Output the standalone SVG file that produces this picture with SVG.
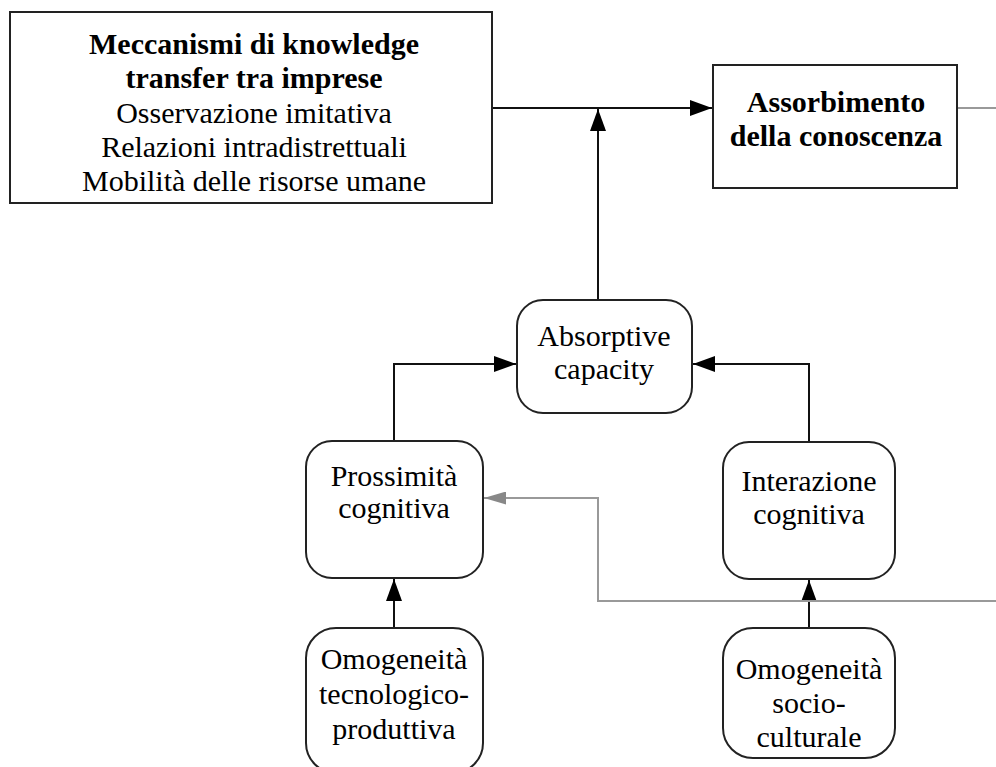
<svg xmlns="http://www.w3.org/2000/svg" width="996" height="767" viewBox="0 0 996 767">
<style>
.box{fill:#fff;stroke:#222;stroke-width:2}
.t{font-family:"Liberation Serif","Times New Roman",serif;font-size:30px;fill:#000;text-anchor:middle}
.b{font-weight:bold}
.c{fill:none;stroke:#111;stroke-width:2}
.g{fill:none;stroke:#999;stroke-width:2}
</style>
<defs>
<marker id="ahb" viewBox="0 0 10 10" refX="10" refY="5" markerWidth="22" markerHeight="16" preserveAspectRatio="none" markerUnits="userSpaceOnUse" orient="auto"><path d="M0,0L10,5L0,10z" fill="#000"/></marker>
<marker id="ahg" viewBox="0 0 10 10" refX="10" refY="5" markerWidth="22" markerHeight="13" preserveAspectRatio="none" markerUnits="userSpaceOnUse" orient="auto"><path d="M0,0L10,5L0,10z" fill="#888"/></marker>
</defs>
<g id="connectors">
<path class="c" d="M492,108H712" marker-end="url(#ahb)"/>
<path class="c" d="M598,300V109" marker-end="url(#ahb)"/>
<path class="g" d="M957,108H996"/>
<path class="c" d="M394,441V364H516" marker-end="url(#ahb)"/>
<path class="c" d="M809,442V364H693" marker-end="url(#ahb)"/>
<path class="c" d="M394,628V579" marker-end="url(#ahb)"/>
<path class="c" d="M809,628V580" marker-end="url(#ahb)"/>
<path class="g" d="M996,601H598V498H484" marker-end="url(#ahg)"/>
</g>
<g id="n-meccanismi">
<rect class="box" x="10" y="12" width="482" height="191"/>
<text class="t b" x="254" y="54">Meccanismi di knowledge</text>
<text class="t b" x="254" y="88">transfer tra imprese</text>
<text class="t" x="254" y="123">Osservazione imitativa</text>
<text class="t" x="254" y="157">Relazioni intradistrettuali</text>
<text class="t" x="254" y="191">Mobilità delle risorse umane</text>
</g>
<g id="n-assorbimento">
<rect class="box" x="713" y="65" width="244" height="123"/>
<text class="t b" x="836" y="112">Assorbimento</text>
<text class="t b" x="836" y="146">della conoscenza</text>
</g>
<g id="n-absorptive">
<rect class="box" x="517" y="300" width="175" height="113" rx="26"/>
<text class="t" x="604" y="346">Absorptive</text>
<text class="t" x="604" y="379">capacity</text>
</g>
<g id="n-prossimita">
<rect class="box" x="306" y="441" width="177" height="137" rx="26"/>
<text class="t" x="394" y="486">Prossimità</text>
<text class="t" x="394" y="518">cognitiva</text>
</g>
<g id="n-interazione">
<rect class="box" x="723" y="442" width="172" height="137" rx="26"/>
<text class="t" x="809" y="491">Interazione</text>
<text class="t" x="809" y="524">cognitiva</text>
</g>
<g id="n-omog-tecn">
<rect class="box" x="306" y="628" width="177" height="145" rx="30"/>
<text class="t" x="394" y="669">Omogeneità</text>
<text class="t" x="394" y="704">tecnologico-</text>
<text class="t" x="394" y="739">produttiva</text>
</g>
<g id="n-omog-socio">
<rect class="box" x="723" y="628" width="172" height="130" rx="30"/>
<text class="t" x="809" y="679">Omogeneità</text>
<text class="t" x="809" y="713">socio-</text>
<text class="t" x="809" y="747">culturale</text>
</g>
</svg>
